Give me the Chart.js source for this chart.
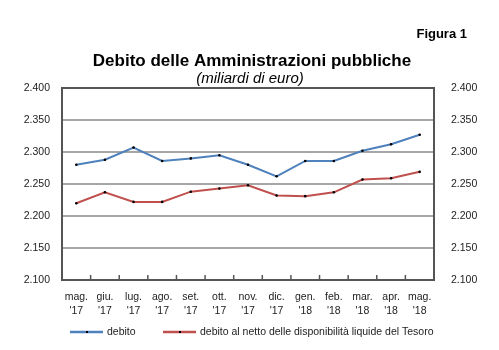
<!DOCTYPE html>
<html>
<head>
<meta charset="utf-8">
<script src="https://cdn.jsdelivr.net/npm/chart.js@4"></script>
<style>
  html, body { margin: 0; padding: 0; background: #fff; }
  #wrap { position: relative; width: 499px; height: 350px; }
</style>
</head>
<body>
<div id="wrap"><canvas id="myChart" width="499" height="350"></canvas></div>
<script>
var labels = [['mag.', "'17"], ['giu.', "'17"], ['lug.', "'17"], ['ago.', "'17"], ['set.', "'17"], ['ott.', "'17"],
  ['nov.', "'17"], ['dic.', "'17"], ['gen.', "'18"], ['feb.', "'18"], ['mar.', "'18"], ['apr.', "'18"], ['mag.', "'18"]];
var debito = [2280, 2288, 2307, 2286, 2290, 2295, 2280, 2262, 2286, 2286, 2302, 2312, 2327];
var debitoNetto = [2220, 2237, 2222, 2222, 2238, 2243, 2248, 2232, 2231, 2237, 2257, 2259, 2269];

var FONT = '"Liberation Sans", Arial, sans-serif';

function fmt(v) {
  v = Math.round(v);
  return Math.floor(v / 1000) + '.' + String(v % 1000).padStart(3, '0');
}

// titles, frame, inward ticks on the category axis and the legend
var decor = {
  id: 'decor',
  afterDraw: function (chart) {
    var c = chart.ctx, a = chart.chartArea;
    c.save();
    c.fillStyle = '#000';
    c.textBaseline = 'middle';
    c.font = 'bold 13px ' + FONT;
    c.textAlign = 'right';
    c.fillText('Figura 1', 467, 34);
    c.textAlign = 'center';
    c.font = 'bold 17px ' + FONT;
    c.fillText('Debito delle Amministrazioni pubbliche', 252, 61);
    c.font = 'italic 15px ' + FONT;
    c.fillText('(miliardi di euro)', 250, 79);

    var x = chart.scales.x;
    c.strokeStyle = '#555';
    c.lineWidth = 1.5;
    for (var i = 1; i < labels.length; i++) {
      var px = (x.getPixelForValue(i - 1) + x.getPixelForValue(i)) / 2;
      c.beginPath();
      c.moveTo(px, a.bottom);
      c.lineTo(px, a.bottom - 5);
      c.stroke();
    }
    c.lineWidth = 2;
    c.strokeRect(a.left, a.top, a.right - a.left, a.bottom - a.top);

    // legend
    var starts = [70, 163], ly = 332;
    c.font = '10.5px ' + FONT;
    c.textAlign = 'left';
    chart.data.datasets.forEach(function (ds, k) {
      var x0 = starts[k];
      c.strokeStyle = ds.borderColor;
      c.lineWidth = 2.5;
      c.beginPath();
      c.moveTo(x0, ly);
      c.lineTo(x0 + 33, ly);
      c.stroke();
      c.fillStyle = '#000';
      c.fillRect(x0 + 16, ly - 1, 2, 2);
      c.fillStyle = '#222';
      c.fillText(ds.label, x0 + 37, ly);
    });
    c.restore();
  }
};

var ctx = document.getElementById('myChart').getContext('2d');
var chart = new Chart(ctx, {
  type: 'line',
  data: {
    labels: labels,
    datasets: [
      {
        label: 'debito',
        data: debito,
        borderColor: '#4f81bd',
        backgroundColor: '#4f81bd',
        borderWidth: 2,
        pointRadius: 1.3,
        pointBackgroundColor: '#000',
        pointBorderColor: '#000',
        pointBorderWidth: 0,
        tension: 0
      },
      {
        label: 'debito al netto delle disponibilità liquide del Tesoro',
        data: debitoNetto,
        borderColor: '#c0504d',
        backgroundColor: '#c0504d',
        borderWidth: 2,
        pointRadius: 1.3,
        pointBackgroundColor: '#000',
        pointBorderColor: '#000',
        pointBorderWidth: 0,
        tension: 0
      }
    ]
  },
  options: {
    responsive: false,
    animation: false,
    layout: { padding: { top: 88, bottom: 35, left: 0, right: 0 } },
    scales: {
      x: {
        offset: true,
        grid: { display: false },
        border: { display: false },
        ticks: { color: '#222', font: { family: FONT, size: 10.5, lineHeight: 1.35 }, padding: 2, maxRotation: 0, autoSkip: false },
        afterFit: function (s) { s.height = 35; }
      },
      y: {
        position: 'left',
        min: 2100, max: 2400,
        grid: { color: '#a6a6a6', lineWidth: 2, drawTicks: false },
        border: { display: false },
        ticks: { stepSize: 50, color: '#222', font: { family: FONT, size: 10.5 }, padding: 12, callback: fmt },
        afterFit: function (s) { s.width = 62; }
      },
      y2: {
        position: 'right',
        min: 2100, max: 2400,
        grid: { display: false },
        border: { display: false },
        ticks: { stepSize: 50, color: '#222', font: { family: FONT, size: 10.5 }, padding: 9, callback: fmt },
        afterFit: function (s) { s.width = 65; }
      }
    },
    plugins: {
      title: { display: false },
      tooltip: { enabled: false },
      legend: { display: false }
    }
  },
  plugins: [decor]
});
</script>
</body>
</html>
